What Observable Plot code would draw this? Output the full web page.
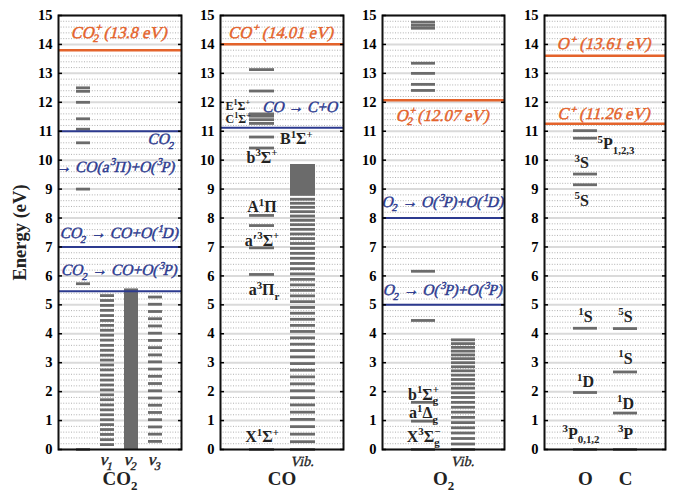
<!DOCTYPE html>
<html><head><meta charset="utf-8">
<script src="https://cdn.jsdelivr.net/npm/d3@7"></script>
<script src="https://cdn.jsdelivr.net/npm/@observablehq/plot@0.6"></script>
<style>
body{margin:0;background:#fff;}
#chart{position:relative;width:673px;height:493px;overflow:hidden;font-family:"Liberation Serif",serif;}
#chart svg{position:absolute;top:0;overflow:visible;background:transparent;}
#chart g[aria-label="y-axis tick label"]{font-weight:bold;font-size:14.5px;font-family:"Liberation Serif",serif;}
</style></head><body><div id="chart"></div>
<script>
// ---------- data ----------
const yTicks = [0,1,2,3,4,5,6,7,8,9,10,11,12,13,14,15];

// CO2
const co2Columns = ["el","ν1","ν2","ν3"];
const co2Electronic = [0, 5.73, 9.0, 10.6, 11.07, 11.43, 12.0, 12.38, 12.5];
const co2Nu1 = [0.17,0.34,0.52,0.69,0.86,1.03,1.2,1.37,1.54,1.72,1.89,2.06,2.23,2.4,2.57,2.75,2.92,3.09,3.26,3.43,3.6,3.78,3.95,4.12,4.29,4.46,4.63,4.81,4.98,5.15,5.32];
const co2Nu2Top = [5.55];
const co2Nu3 = [0.28,0.53,0.78,1.03,1.28,1.53,1.78,2.03,2.28,2.53,2.78,3.03,3.27,3.52,3.77,4.02,4.27,4.52,4.77,5.02,5.27];
const co2Ion = [13.8];
const co2Diss = [5.47, 7.0, 11.0];

// CO
const coColumns = ["el","vib"];
const coElectronic = [0, 6.05, 6.97, 7.74, 8.09, 10.42, 10.8, 11.27, 11.4, 11.52, 11.6, 12.39, 13.13];
const coVib = [0,0.27,0.53,0.79,1.04,1.29,1.54,1.79,2.03,2.27,2.51,2.74,2.97,3.2,3.42,3.64,3.86,4.08,4.29,4.5,4.71,4.91,5.11,5.31,5.5,5.69,5.88,6.07,6.25,6.43,6.61,6.78,6.95,7.12,7.29,7.45,7.61,7.77,7.92,8.07,8.22,8.37,8.51,8.65];
const coVibBlock = [{lo: 8.75, hi: 9.85}];
const coIon = [14.01];
const coDiss = [11.12];

// O2
const o2Columns = ["el","vib"];
const o2Electronic = [0, 0.98, 1.63, 4.46, 6.16, 12.41, 12.62, 13.0, 13.35, 14.56, 14.66, 14.77];
const o2Vib = [0,0.19,0.38,0.57,0.75,0.93,1.11,1.29,1.46,1.63,1.8,1.96,2.12,2.27,2.42,2.57,2.72,2.86,3.0,3.14,3.27,3.4,3.53,3.66,3.79];
const o2Ion = [12.07];
const o2Diss = [5.0, 8.0];

// O and C atoms
const atomColumns = ["O","C"];
const oLevels = [0, 1.97, 4.19, 9.15, 9.52, 10.76, 11.02];
const cLevels = [0, 1.26, 2.68, 4.18];
const atomIon = [13.61, 11.26];

// ---------- helpers ----------
const ORANGE = "#e4632b", BLUE = "#2c3a8f", GRAY = "#6b6b6b", INK = "#222";
const FONT = "Liberation Serif";
const minorTicks = d3.range(0, 15, 0.2).filter(v => Math.abs(v - Math.round(v)) > 0.01);
const tab = (arr, col) => arr.map(E => ({col, E}));
const levels = (arr, col, sw = 2.8) => Plot.tickY(tab(arr, col), {x: "col", y: "E", stroke: GRAY, strokeWidth: sw});
const L = (t, E, o = {}) => {
  const {col, ...rest} = o;
  return Plot.text([{t, E, col}], {x: col ? "col" : undefined, y: "E", text: "t", lineAnchor: "middle", fontFamily: FONT, ...rest});
};
const IT = {fontStyle: "italic", fontSize: 15.5, strokeWidth: 0.45};
const BLUE_IT = {...IT, fill: BLUE, stroke: BLUE};
const ORANGE_IT = {...IT, fontSize: 16.5, fill: ORANGE, stroke: ORANGE};
const BLD = {fontWeight: "bold", fontSize: 16, fill: INK};

function panel(o) {
  const svg = Plot.plot({
    width: o.width, height: 493,
    marginTop: 15, marginBottom: 44, marginLeft: o.mL, marginRight: o.mR,
    style: {fontFamily: `'${FONT}', serif`, background: "transparent", overflow: "visible"},
    x: {type: "band", domain: o.cols, paddingInner: 0.4, paddingOuter: 0.7, axis: null},
    y: {domain: [0, 15]},
    marks: [
      Plot.ruleY(minorTicks, {stroke: "#b0b0b0", strokeWidth: 1, strokeDasharray: "1,1.6"}),
      Plot.ruleY(yTicks, {stroke: "#dadada", strokeWidth: 2}),
      ...o.marks,
      Plot.frame({stroke: "#111", strokeWidth: 2}),
      Plot.axisY({anchor: "left", label: null, ticks: yTicks, tickSize: -4, tickPadding: 10, tickFormat: d => d, strokeWidth: 1.5}),
      Plot.axisY({anchor: "right", label: null, ticks: yTicks, tickSize: -4, tickFormat: () => "", strokeWidth: 1.5})
    ]
  });
  svg.style.left = o.left + "px";
  return svg;
}

const NS = "http://www.w3.org/2000/svg";
function richify(svg) {
  svg.querySelectorAll("text").forEach(t => {
    const cs = getComputedStyle(t);
    // slant italic labels from the serif face so they stay serif
    if (cs.fontStyle === "italic") {
      t.style.fontStyle = "normal";
      const tr = t.getAttribute("transform");
      if (tr) t.setAttribute("transform", tr + " skewX(-14)");
      else {
        const x = +t.getAttribute("x") || 0, y = +t.getAttribute("y") || 0;
        t.setAttribute("transform", `translate(${x},${y}) skewX(-14) translate(${-x},${-y})`);
      }
    }
    const s = t.textContent;
    if (!/[\^_@]\{/.test(s)) return;
    const fs = parseFloat(cs.fontSize) || 14;
    const small = (fs * 0.68).toFixed(2) + "px";
    const up = -0.4 * fs, down = 0.28 * fs;
    t.textContent = "";
    let shift = 0, last = 0, m;
    const add = (str, target, sm, dx) => {
      const ts = document.createElementNS(NS, "tspan");
      if (target !== shift) ts.setAttribute("dy", (target - shift).toFixed(2));
      shift = target;
      if (sm) ts.setAttribute("font-size", small);
      if (dx) ts.setAttribute("dx", dx.toFixed(2));
      ts.textContent = str;
      t.appendChild(ts);
      return ts;
    };
    const re = /\^\{([^}]*)\}|_\{([^}]*)\}|@\{([^}]*)\}\{([^}]*)\}/g;
    while ((m = re.exec(s))) {
      if (m.index > last) add(s.slice(last, m.index), 0);
      if (m[1] !== undefined) add(m[1], up, true);
      else if (m[2] !== undefined) add(m[2], down, true);
      else { const a = add(m[3], up, true); const w = a.getComputedTextLength(); add(m[4], down, true, -w); }
      last = re.lastIndex;
    }
    if (last < s.length) add(s.slice(last), 0);
  });
}

// ---------- panels ----------
const p1 = panel({left: 0, width: 190, mL: 58, mR: 9, cols: co2Columns, marks: [
  levels(co2Electronic, "el"),
  levels(co2Nu1, "ν1"),
  Plot.barY(tab(co2Nu2Top, "ν2"), {x: "col", y: "E", fill: GRAY}),
  levels(co2Nu3, "ν3"),
  Plot.ruleY(co2Diss, {stroke: BLUE, strokeWidth: 2}),
  Plot.ruleY(co2Ion, {stroke: ORANGE, strokeWidth: 2.5}),
  L("CO@{+}{2} (13.8 eV)", 14.42, {frameAnchor: "middle", ...ORANGE_IT}),
  L("CO_{2}", 10.72, {frameAnchor: "right", textAnchor: "end", dx: -6, ...BLUE_IT}),
  L("→ CO(a^{3}Π)+O(^{3}P)", 9.78, {frameAnchor: "right", textAnchor: "end", dx: -6, ...BLUE_IT}),
  L("CO_{2} → CO+O(^{1}D)", 7.47, {frameAnchor: "middle", ...BLUE_IT}),
  L("CO_{2} → CO+O(^{3}P)", 6.19, {frameAnchor: "middle", ...BLUE_IT}),
  L("ν_{1}", -0.35, {col: "ν1", fontStyle: "italic", fontSize: 17, fill: INK, stroke: INK, strokeWidth: 0.4}),
  L("ν_{2}", -0.35, {col: "ν2", fontStyle: "italic", fontSize: 17, fill: INK, stroke: INK, strokeWidth: 0.4}),
  L("ν_{3}", -0.35, {col: "ν3", fontStyle: "italic", fontSize: 17, fill: INK, stroke: INK, strokeWidth: 0.4}),
  L("CO_{2}", -1.0, {frameAnchor: "middle", fontWeight: "bold", fontSize: 19, fill: INK}),
  Plot.text(["Energy (eV)"], {text: d => d, frameAnchor: "left", textAnchor: "middle", dx: -38, rotate: -90, fontFamily: FONT, fontWeight: "bold", fontSize: 18.5, fill: INK})
]});

const p2 = panel({left: 190, width: 162, mL: 30, mR: 9, cols: coColumns, marks: [
  levels(coElectronic, "el"),
  levels(coVib, "vib"),
  Plot.barY(coVibBlock.map(d => ({...d, col: "vib"})), {x: "col", y1: "lo", y2: "hi", fill: GRAY}),
  Plot.ruleY(coDiss, {stroke: BLUE, strokeWidth: 2}),
  Plot.ruleY(coIon, {stroke: ORANGE, strokeWidth: 2.5}),
  L("CO^{+} (14.01 eV)", 14.42, {frameAnchor: "middle", ...ORANGE_IT}),
  L("CO → C+O", 11.82, {frameAnchor: "right", textAnchor: "end", dx: -5, ...BLUE_IT}),
  L("E^{1}Σ^{+}", 11.88, {frameAnchor: "left", textAnchor: "start", dx: 5, ...BLD, fontSize: 12}),
  L("C^{1}Σ^{+}", 11.42, {frameAnchor: "left", textAnchor: "start", dx: 5, ...BLD, fontSize: 12}),
  L("B^{1}Σ^{+}", 10.72, {col: "el", textAnchor: "start", dx: 18, ...BLD}),
  L("b^{3}Σ^{+}", 10.09, {col: "el", ...BLD}),
  L("A^{1}Π", 8.37, {col: "el", ...BLD}),
  L("a′^{3}Σ^{+}", 7.22, {col: "el", ...BLD}),
  L("a^{3}Π_{r}", 5.5, {col: "el", dx: 2, ...BLD}),
  L("X^{1}Σ^{+}", 0.43, {col: "el", ...BLD}),
  L("Vib.", -0.42, {col: "vib", fontStyle: "italic", fontSize: 14, fill: INK, stroke: INK, strokeWidth: 0.35}),
  L("CO", -1.0, {frameAnchor: "middle", fontWeight: "bold", fontSize: 19, fill: INK})
]});

const p3 = panel({left: 352, width: 160, mL: 30, mR: 8, cols: o2Columns, marks: [
  levels(o2Electronic, "el"),
  levels(o2Vib, "vib"),
  Plot.ruleY(o2Diss, {stroke: BLUE, strokeWidth: 2}),
  Plot.ruleY(o2Ion, {stroke: ORANGE, strokeWidth: 2.5}),
  L("O@{+}{2} (12.07 eV)", 11.55, {frameAnchor: "middle", ...ORANGE_IT}),
  L("O_{2} → O(^{3}P)+O(^{1}D)", 8.55, {frameAnchor: "middle", ...BLUE_IT}),
  L("O_{2} → O(^{3}P)+O(^{3}P)", 5.5, {frameAnchor: "middle", ...BLUE_IT}),
  L("b^{1}Σ@{+}{g}", 1.9, {col: "el", ...BLD}),
  L("a^{1}Δ_{g}", 1.25, {col: "el", ...BLD}),
  L("X^{3}Σ@{−}{g}", 0.45, {col: "el", ...BLD}),
  L("Vib.", -0.42, {col: "vib", fontStyle: "italic", fontSize: 14, fill: INK, stroke: INK, strokeWidth: 0.35}),
  L("O_{2}", -1.0, {frameAnchor: "middle", fontWeight: "bold", fontSize: 19, fill: INK})
]});

const p4 = panel({left: 512, width: 161, mL: 32, mR: 8, cols: atomColumns, marks: [
  levels(oLevels, "O"),
  levels(cLevels, "C"),
  Plot.ruleY(atomIon, {stroke: ORANGE, strokeWidth: 2.5}),
  L("O^{+} (13.61 eV)", 14.02, {frameAnchor: "middle", ...ORANGE_IT}),
  L("C^{+} (11.26 eV)", 11.6, {frameAnchor: "middle", ...ORANGE_IT}),
  L("^{5}P_{1,2,3}", 10.55, {col: "O", textAnchor: "start", dx: 12, ...BLD}),
  L("^{3}S", 9.9, {col: "O", textAnchor: "start", dx: -11, ...BLD}),
  L("^{5}S", 8.6, {col: "O", textAnchor: "start", dx: -11, ...BLD}),
  L("^{1}S", 4.6, {col: "O", ...BLD}),
  L("^{5}S", 4.6, {col: "C", ...BLD}),
  L("^{1}S", 3.14, {col: "C", ...BLD}),
  L("^{1}D", 2.33, {col: "O", ...BLD}),
  L("^{1}D", 1.59, {col: "C", ...BLD}),
  L("^{3}P_{0,1,2}", 0.55, {col: "O", textAnchor: "start", dx: -23, ...BLD}),
  L("^{3}P", 0.55, {col: "C", ...BLD}),
  L("O", -1.0, {col: "O", fontWeight: "bold", fontSize: 19, fill: INK}),
  L("C", -1.0, {col: "C", fontWeight: "bold", fontSize: 19, fill: INK})
]});

const chart = document.getElementById("chart");
for (const p of [p1, p2, p3, p4]) { chart.appendChild(p); richify(p); }
</script></body></html>
